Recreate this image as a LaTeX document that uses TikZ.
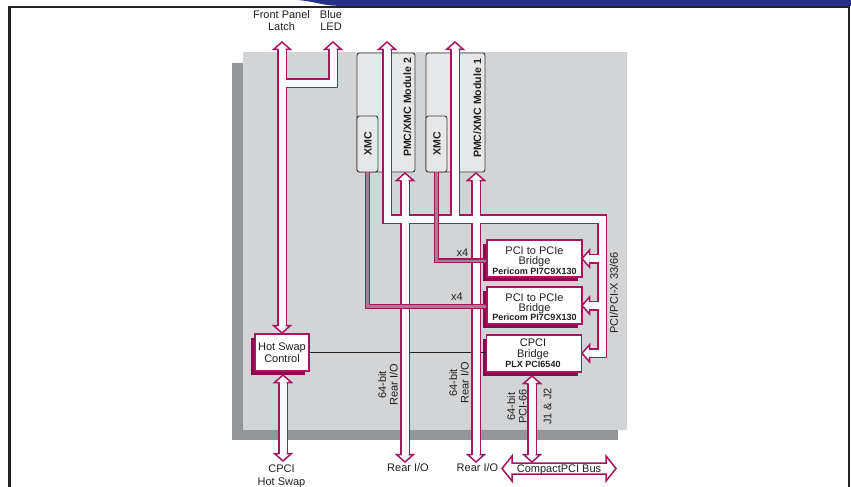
\documentclass[tikz,border=0pt]{standalone}
\usepackage{fontspec}
\setmainfont{Liberation Sans}
\usetikzlibrary{shadows}
\definecolor{mag}{RGB}{165,22,95}
\definecolor{magdark}{RGB}{138,10,78}
\definecolor{boardl}{RGB}{211,212,214}
\definecolor{boardd}{RGB}{147,149,152}
\definecolor{modfill}{RGB}{230,231,232}
\definecolor{modline}{RGB}{60,60,60}
\definecolor{linkcore}{RGB}{160,128,145}
\definecolor{topblue}{RGB}{38,48,135}
\definecolor{framec}{RGB}{35,35,35}
\definecolor{txt}{RGB}{35,31,32}
\newcommand{\fr}{\fontsize{11}{11.5}\selectfont}
\newcommand{\fbsmall}{\bfseries\fontsize{9}{10}\selectfont}
\newcommand{\fbmod}{\bfseries\fontsize{10.6}{11}\selectfont}
\tikzset{
 lbl/.style={font=\fr, inner sep=0, align=center, text=txt},
 btxt/.style={font=\fbsmall, inner sep=0, text=txt},
 modtxt/.style={font=\fbmod, inner sep=0, rotate=90, text=txt},
 boxst/.style={draw=mag, line width=1.4pt, fill=white, inner sep=0,
   general shadow={fill=magdark, shadow xshift=-4pt, shadow yshift=-4pt}},
 bw/.style={minimum width=95pt, minimum height=37pt},
 module/.style={draw=modline, fill=modfill, line width=0.9pt, rounded corners=2.5pt, inner sep=0},
 shaftout/.style={draw=mag, line width=10pt, line join=miter},
 shaftin/.style={draw=white, line width=7pt, line join=miter},
 headst/.style={fill=white, draw=mag, line width=1.5pt, line join=miter},
 linkout/.style={draw=mag, line width=5pt},
 linkin/.style={draw=linkcore, line width=2.2pt},
}
\newcommand{\hhead}[2]{\begin{scope}[shift={#1}, rotate=#2]
  \filldraw[headst] (-7.5,3.5) -- (-7.5,8.5) -- (0,0) -- (-7.5,-8.5) -- (-7.5,-3.5);
  \end{scope}}
\newcommand{\shaftpaths}[1]{%
  \draw[#1] (282,49.5) -- (282,325.5);
  \draw[#1] (282,83) -- (333,83) -- (333,49.5);
  \draw[#1] (283,382.5) -- (283,453.5);
  \draw[#1] (387,49.5) -- (387,219) -- (602,219) -- (602,353.3) -- (589.5,353.3);
  \draw[#1] (602,258.6) -- (589.5,258.6);
  \draw[#1] (602,305.5) -- (589.5,305.5);
  \draw[#1] (455,49.5) -- (455,219);
  \draw[#1] (405,180.5) -- (405,454.5);
  \draw[#1] (476,180.5) -- (476,454.5);
  \draw[#1] (532,383.5) -- (532,454.5);
}
\begin{document}
\begin{tikzpicture}[x=1pt,y=-1pt]
\useasboundingbox (0,0) rectangle (851,487);
% header and frame
\fill[topblue] (298,0) .. controls (318,2) and (322,5.6) .. (338,5.8) -- (851,5.8) -- (851,0) -- cycle;
\draw[framec, line width=2.4pt] (9.6,487) -- (9.6,7) -- (849.2,7) -- (849.2,487);
% board
\fill[boardd] (232,63) rectangle (618,440);
\fill[boardl] (243,52) rectangle (627,430);
% modules
\node[module, minimum width=58pt, minimum height=119pt] (m2) at (386,112.5) {};
\node[module, minimum width=21pt, minimum height=56pt] (x2) at (367.5,144) {};
\node[module, minimum width=59pt, minimum height=119pt] (m1) at (455.5,112.5) {};
\node[module, minimum width=21pt, minimum height=56pt] (x1) at (436.5,144) {};
\node[modtxt] (m2t) at (407.5,107.5) {PMC/XMC Module 2};
\node[modtxt] (m1t) at (477.5,108.5) {PMC/XMC Module 1};
\node[modtxt] (x2t) at (368,143.5) {XMC};
\node[modtxt] (x1t) at (437,143.5) {XMC};
% boxes
\node[boxst, minimum width=54pt, minimum height=37pt] (hs) at (282,352.5) {};
\node[boxst, bw] (b1) at (534.5,258.6) {};
\node[boxst, bw] (b2) at (534.5,305.5) {};
\node[boxst, bw] (b3) at (534,353.3) {};
\draw[line width=0.7pt, txt] (hs.east) -- (hs.east -| b3.west);
% hollow arrows
\shaftpaths{shaftout}
\shaftpaths{shaftin}
\hhead{(282,42)}{90}
\hhead{(333,42)}{90}
\hhead{(282,333)}{-90}
\hhead{(283,375)}{90}
\hhead{(283,461)}{-90}
\hhead{(387,42)}{90}
\hhead{(455,42)}{90}
\hhead{(582,258.6)}{180}
\hhead{(582,305.5)}{180}
\hhead{(582,353.3)}{180}
\hhead{(405,173)}{90}
\hhead{(405,462)}{-90}
\hhead{(476,173)}{90}
\hhead{(476,462)}{-90}
\hhead{(532,376)}{90}
\hhead{(532,462)}{-90}
% CompactPCI bus arrow
\filldraw[headst] (502,468.5) -- (512,456) -- (512,463) -- (606,463) -- (606,456) -- (616,468.5)
  -- (606,481) -- (606,474) -- (512,474) -- (512,481) -- cycle;
\node[lbl, anchor=base] (busl) at (559,472.5) {CompactPCI Bus};
% XMC links
\draw[linkout] (x1.south) |- ([yshift=-2pt]b1.west);
\draw[linkout] (x2.south) |- ([yshift=-1pt]b2.west);
\draw[linkin] (x1.south) |- ([yshift=-2pt]b1.west);
\draw[linkin] (x2.south) |- ([yshift=-1pt]b2.west);
\node[lbl, anchor=base] (x4a) at (462.5,256.5) {x4};
\node[lbl, anchor=base] (x4b) at (457,300) {x4};
% box texts
\node[lbl, anchor=base] (hst1) at (282,350.5) {Hot Swap};
\node[lbl, anchor=base] (hst2) at (282,362) {Control};
\node[lbl, anchor=base] (b1t1) at (534.5,254.3) {PCI to PCIe};
\node[lbl, anchor=base] (b1t2) at (534.5,264.3) {Bridge};
\node[btxt, anchor=base] (b1t3) at (534.5,274) {Pericom PI7C9X130};
\node[lbl, anchor=base] (b2t1) at (534.5,301.2) {PCI to PCIe};
\node[lbl, anchor=base] (b2t2) at (534.5,311.2) {Bridge};
\node[btxt, anchor=base] (b2t3) at (534.5,320.9) {Pericom PI7C9X130};
\node[lbl, anchor=base] (b3t1) at (533,346.7) {CPCI};
\node[lbl, anchor=base] (b3t2) at (533,357) {Bridge};
\node[btxt, anchor=base] (b3t3) at (533,367.3) {PLX PCI6540};
% outer labels
\node[lbl, anchor=base] (fp1) at (281.5,19) {Front Panel};
\node[lbl, anchor=base] (fp2) at (281.5,30.5) {Latch};
\node[lbl, anchor=base] (led1) at (331,19) {Blue};
\node[lbl, anchor=base] (led2) at (331,30.5) {LED};
\node[lbl, anchor=base] (chs1) at (281.5,472) {CPCI};
\node[lbl, anchor=base] (chs2) at (281.5,485) {Hot Swap};
\node[lbl, anchor=base] (rio1) at (408,471) {Rear I/O};
\node[lbl, anchor=base] (rio2) at (477.5,471) {Rear I/O};
\node[lbl, rotate=90] (r1) at (388,385) {64-bit\\Rear I/O};
\node[lbl, rotate=90] (r2) at (459,383) {64-bit\\Rear I/O};
\node[lbl, rotate=90] (r3) at (517,406.5) {64-bit\\PCI-66};
\node[lbl, rotate=90] (r4) at (547.5,406.5) {J1 \& J2};
\node[lbl, rotate=90] (r5) at (614,293) {PCI/PCI-X 33/66};
\end{tikzpicture}
\end{document}
